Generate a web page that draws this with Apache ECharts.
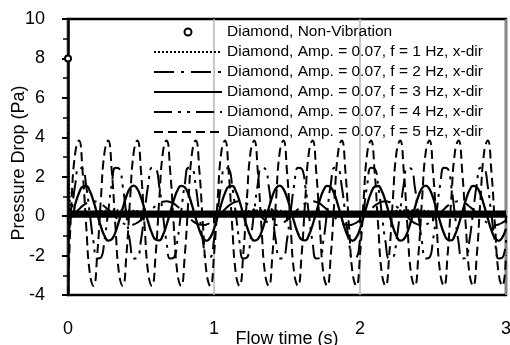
<!DOCTYPE html>
<html>
<head>
<meta charset="utf-8">
<script src="https://cdn.jsdelivr.net/npm/echarts@6/dist/echarts.min.js"></script>
<style>
html,body{margin:0;padding:0;background:#fff;}
#c{width:510px;height:345px;}
</style>
</head>
<body>
<div id="c"></div>
<script>
// ---- data ----
var seriesNames = [
  'Diamond, Non-Vibration',
  'Diamond, Amp. = 0.07, f = 1 Hz, x-dir',
  'Diamond, Amp. = 0.07, f = 2 Hz, x-dir',
  'Diamond, Amp. = 0.07, f = 3 Hz, x-dir',
  'Diamond, Amp. = 0.07, f = 4 Hz, x-dir',
  'Diamond, Amp. = 0.07, f = 5 Hz, x-dir'
];
var xTicks = [0, 1, 2, 3];
var yTicks = [-4, -2, 0, 2, 4, 6, 8, 10];

var nonVibTime  = [0, 0.005, 0.01, 3.0];
var nonVibValue = [8.0, null, 0.14, 0.14];

var time = [
0,0.025,0.05,0.075,0.1,0.125,0.15,0.175,0.2,0.225,0.25,0.275,0.3,0.325,0.35,0.375,0.4,0.425,0.45,0.475,
0.5,0.525,0.55,0.575,0.6,0.625,0.65,0.675,0.7,0.725,0.75,0.775,0.8,0.825,0.85,0.875,0.9,0.925,0.95,0.975,
1,1.025,1.05,1.075,1.1,1.125,1.15,1.175,1.2,1.225,1.25,1.275,1.3,1.325,1.35,1.375,1.4,1.425,1.45,1.475,
1.5,1.525,1.55,1.575,1.6,1.625,1.65,1.675,1.7,1.725,1.75,1.775,1.8,1.825,1.85,1.875,1.9,1.925,1.95,1.975,
2,2.025,2.05,2.075,2.1,2.125,2.15,2.175,2.2,2.225,2.25,2.275,2.3,2.325,2.35,2.375,2.4,2.425,2.45,2.475,
2.5,2.525,2.55,2.575,2.6,2.625,2.65,2.675,2.7,2.725,2.75,2.775,2.8,2.825,2.85,2.875,2.9,2.925,2.95,2.975,
3
];

var f1Value = [
5.5,0.09,0.11,0.13,0.15,0.18,0.20,0.22,0.24,0.26,0.27,0.29,0.29,0.30,0.30,0.30,0.29,0.28,0.27,0.25,
0.23,0.21,0.19,0.17,0.15,0.12,0.10,0.08,0.06,0.04,0.03,0.01,0.01,0.00,0.00,0.00,0.01,0.02,0.03,0.05,
0.07,0.09,0.11,0.13,0.15,0.18,0.20,0.22,0.24,0.26,0.27,0.29,0.29,0.30,0.30,0.30,0.29,0.28,0.27,0.25,
0.23,0.21,0.19,0.17,0.15,0.12,0.10,0.08,0.06,0.04,0.03,0.01,0.01,0.00,0.00,0.00,0.01,0.02,0.03,0.05,
0.07,0.09,0.11,0.13,0.15,0.18,0.20,0.22,0.24,0.26,0.27,0.29,0.29,0.30,0.30,0.30,0.29,0.28,0.27,0.25,
0.23,0.21,0.19,0.17,0.15,0.12,0.10,0.08,0.06,0.04,0.03,0.01,0.01,0.00,0.00,0.00,0.01,0.02,0.03,0.05,
0.07
];

var f2Value = [
1.8,-0.02,0.17,0.35,0.52,0.65,0.73,0.75,0.72,0.63,0.49,0.32,0.13,-0.05,-0.22,-0.35,-0.43,-0.45,-0.42,-0.33,
-0.19,-0.02,0.17,0.35,0.52,0.65,0.73,0.75,0.72,0.63,0.49,0.32,0.13,-0.05,-0.22,-0.35,-0.43,-0.45,-0.42,-0.33,
-0.19,-0.02,0.17,0.35,0.52,0.65,0.73,0.75,0.72,0.63,0.49,0.32,0.13,-0.05,-0.22,-0.35,-0.43,-0.45,-0.42,-0.33,
-0.19,-0.02,0.17,0.35,0.52,0.65,0.73,0.75,0.72,0.63,0.49,0.32,0.13,-0.05,-0.22,-0.35,-0.43,-0.45,-0.42,-0.33,
-0.19,-0.02,0.17,0.35,0.52,0.65,0.73,0.75,0.72,0.63,0.49,0.32,0.13,-0.05,-0.22,-0.35,-0.43,-0.45,-0.42,-0.33,
-0.19,-0.02,0.17,0.35,0.52,0.65,0.73,0.75,0.72,0.63,0.49,0.32,0.13,-0.05,-0.22,-0.35,-0.43,-0.45,-0.42,-0.33,
-0.19
];

var f3Value = [
0.10,-0.03,0.62,1.17,1.49,1.53,1.26,0.75,0.11,-0.52,-1.00,-1.24,-1.17,-0.81,-0.24,0.41,1.01,1.42,1.55,1.38,
0.94,0.33,-0.32,-0.87,-1.19,-1.23,-0.96,-0.45,0.19,0.82,1.31,1.54,1.47,1.11,0.54,-0.11,-0.71,-1.12,-1.25,-1.08,
-0.64,-0.03,0.62,1.17,1.49,1.53,1.26,0.75,0.11,-0.52,-1.00,-1.24,-1.17,-0.81,-0.24,0.41,1.01,1.42,1.55,1.38,
0.94,0.33,-0.32,-0.87,-1.19,-1.23,-0.96,-0.45,0.19,0.82,1.31,1.54,1.47,1.11,0.54,-0.11,-0.71,-1.12,-1.25,-1.08,
-0.64,-0.03,0.62,1.17,1.49,1.53,1.26,0.75,0.11,-0.52,-1.00,-1.24,-1.17,-0.81,-0.24,0.41,1.01,1.42,1.55,1.38,
0.94,0.33,-0.32,-0.87,-1.19,-1.23,-0.96,-0.45,0.19,0.82,1.31,1.54,1.47,1.11,0.54,-0.11,-0.71,-1.12,-1.25,-1.08,
-0.64
];

var f4Value = [
-1.21,0.22,1.62,2.45,2.41,1.51,0.08,-1.32,-2.15,-2.11,-1.21,0.22,1.62,2.45,2.41,1.51,0.08,-1.32,-2.15,-2.11,
-1.21,0.22,1.62,2.45,2.41,1.51,0.08,-1.32,-2.15,-2.11,-1.21,0.22,1.62,2.45,2.41,1.51,0.08,-1.32,-2.15,-2.11,
-1.21,0.22,1.62,2.45,2.41,1.51,0.08,-1.32,-2.15,-2.11,-1.21,0.22,1.62,2.45,2.41,1.51,0.08,-1.32,-2.15,-2.11,
-1.21,0.22,1.62,2.45,2.41,1.51,0.08,-1.32,-2.15,-2.11,-1.21,0.22,1.62,2.45,2.41,1.51,0.08,-1.32,-2.15,-2.11,
-1.21,0.22,1.62,2.45,2.41,1.51,0.08,-1.32,-2.15,-2.11,-1.21,0.22,1.62,2.45,2.41,1.51,0.08,-1.32,-2.15,-2.11,
-1.21,0.22,1.62,2.45,2.41,1.51,0.08,-1.32,-2.15,-2.11,-1.21,0.22,1.62,2.45,2.41,1.51,0.08,-1.32,-2.15,-2.11,
-1.21
];

var f5Value = [
-4.0,0.84,3.24,3.84,2.27,-0.54,-2.94,-3.54,-1.97,0.84,3.24,3.84,2.27,-0.54,-2.94,-3.54,-1.97,0.84,3.24,3.84,
2.27,-0.54,-2.94,-3.54,-1.97,0.84,3.24,3.84,2.27,-0.54,-2.94,-3.54,-1.97,0.84,3.24,3.84,2.27,-0.54,-2.94,-3.54,
-1.97,0.84,3.24,3.84,2.27,-0.54,-2.94,-3.54,-1.97,0.84,3.24,3.84,2.27,-0.54,-2.94,-3.54,-1.97,0.84,3.24,3.84,
2.27,-0.54,-2.94,-3.54,-1.97,0.84,3.24,3.84,2.27,-0.54,-2.94,-3.54,-1.97,0.84,3.24,3.84,2.27,-0.54,-2.94,-3.54,
-1.97,0.84,3.24,3.84,2.27,-0.54,-2.94,-3.54,-1.97,0.84,3.24,3.84,2.27,-0.54,-2.94,-3.54,-1.97,0.84,3.24,3.84,
2.27,-0.54,-2.94,-3.54,-1.97,0.84,3.24,3.84,2.27,-0.54,-2.94,-3.54,-1.97,0.84,3.24,3.84,2.27,-0.54,-2.94,-3.54,
-1.97
];

// ---- chart ----
var FONT = 'Liberation Sans, Arial, sans-serif';
function pairs(t, v) { return t.map(function (x, i) { return [x, v[i]]; }); }

var nonVibData = nonVibTime.map(function (x, i) {
  return i === 0 ? [x, nonVibValue[i]] : { value: [x, nonVibValue[i]], symbol: 'none' };
});

var waves = [f1Value, f2Value, f3Value, f4Value, f5Value];
var dashes = [[2, 2], [20, 7, 3, 7], 'solid', [18, 6, 3, 6, 3, 6], [9, 5]];
var widths = [2, 2, 2.3, 2, 2];

var series = [{
  name: seriesNames[0], type: 'line', data: nonVibData, z: 5,
  symbol: 'emptyCircle', symbolSize: 6, showSymbol: true,
  itemStyle: { color: '#000', borderWidth: 1.5 },
  lineStyle: { color: '#000', width: 6 },
  connectNulls: false
}];
waves.forEach(function (w, i) {
  series.push({
    name: seriesNames[i + 1], type: 'line', data: pairs(time, w), z: 2,
    symbol: 'none', smooth: 0.5,
    lineStyle: { color: '#000', width: widths[i], type: dashes[i] },
    itemStyle: { color: '#000' }
  });
});

var legendData = seriesNames.map(function (n, i) {
  return i === 0 ? { name: n, icon: 'emptyCircle' } : { name: n, itemStyle: { opacity: 0 } };
});

var chart = echarts.init(document.getElementById('c'), null, { renderer: 'canvas' });
chart.setOption({
  animation: false,
  backgroundColor: '#fff',
  textStyle: { fontFamily: FONT },
  grid: { left: 68, right: 4, top: 19, bottom: 50, containLabel: false, outerBoundsMode: 'none',
          show: true, borderColor: '#000', borderWidth: 2.5, backgroundColor: 'transparent' },
  legend: {
    data: legendData, orient: 'vertical', left: 148, top: 19,
    itemWidth: 68, itemHeight: 7, itemGap: 4,
    textStyle: { fontFamily: FONT, fontSize: 15.5, color: '#000' },
    selectedMode: false
  },
  xAxis: {
    type: 'value', min: xTicks[0], max: xTicks[xTicks.length - 1], interval: 1,
    name: 'Flow time (s)', nameLocation: 'middle', nameGap: 35, nameMoveOverlap: false,
    nameTextStyle: { fontFamily: FONT, fontSize: 18, color: '#000' },
    axisLine: { lineStyle: { color: '#000', width: 2.5 } },
    axisTick: { show: true, length: 7, lineStyle: { color: '#000', width: 2 } },
    minorTick: { show: true, splitNumber: 2, length: 5, lineStyle: { color: '#000', width: 2 } },
    axisLabel: { fontFamily: FONT, fontSize: 18, color: '#000', margin: 25 },
    splitLine: { show: true, lineStyle: { color: '#b4b4b4', width: 1.5 } }
  },
  yAxis: {
    type: 'value', min: yTicks[0], max: yTicks[yTicks.length - 1], interval: 2,
    name: 'Pressure Drop (Pa)', nameLocation: 'middle', nameGap: 40, nameMoveOverlap: false,
    nameTextStyle: { fontFamily: FONT, fontSize: 18, color: '#000', padding: [0, 12, 0, 0] },
    axisLine: { lineStyle: { color: '#000', width: 2.5 } },
    axisTick: { show: true, length: 6, lineStyle: { color: '#000', width: 2 } },
    minorTick: { show: true, splitNumber: 2, length: 5, lineStyle: { color: '#000', width: 1.5 } },
    axisLabel: { fontFamily: FONT, fontSize: 18, color: '#000', margin: 23 },
    splitLine: { show: false }
  },
  series: series
});
</script>
</body>
</html>
